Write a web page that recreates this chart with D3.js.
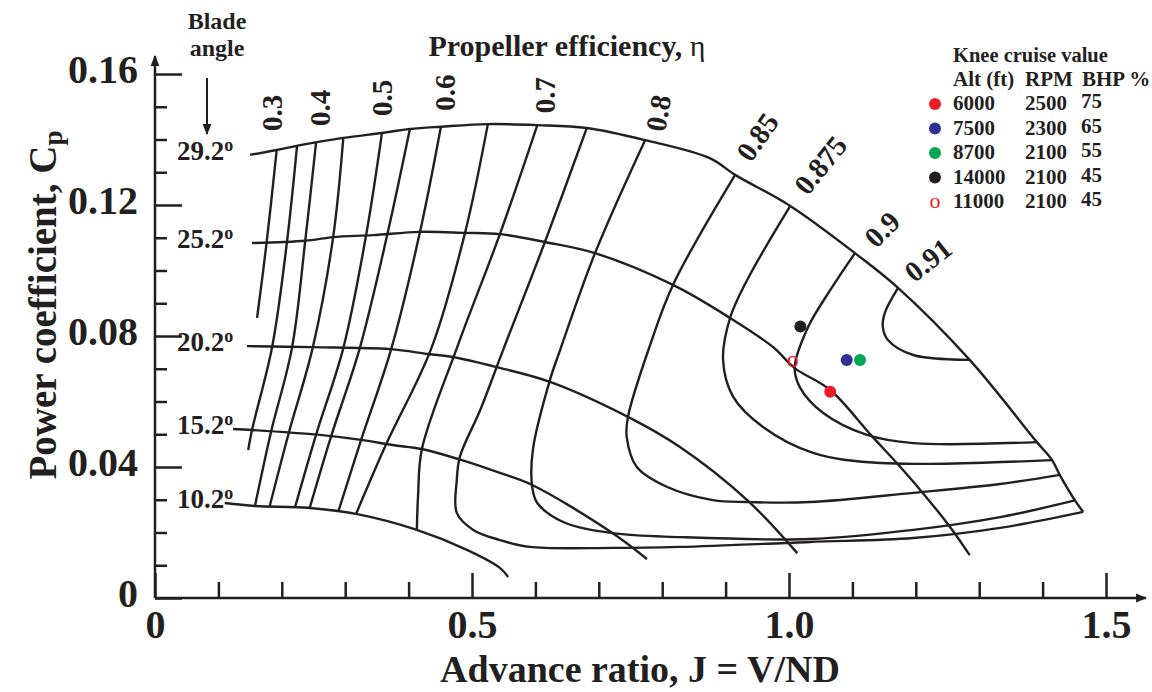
<!DOCTYPE html>
<html>
<head>
<meta charset="utf-8">
<script src="https://cdn.jsdelivr.net/npm/d3@7"></script>
<style>
  body { margin: 0; background: #fff; }
  svg { display: block; font-family: "Liberation Serif", "Times New Roman", serif; }
</style>
</head>
<body>
<svg id="chart" width="1152" height="692"></svg>
<script>
// axis ticks
var xMajor = [0, 0.5, 1.0, 1.5];
var xTickLabels = ["0", "0.5", "1.0", "1.5"];
var xMinor = [0.1, 0.2, 0.3, 0.4, 0.6, 0.7, 0.8, 0.9, 1.1, 1.2, 1.3, 1.4];
var yMajor = [0, 0.04, 0.08, 0.12, 0.16];
var yTickLabels = ["0", "0.04", "0.08", "0.12", "0.16"];
var yMinor = [0.01, 0.02, 0.03, 0.05, 0.06, 0.07, 0.09, 0.10, 0.11, 0.13, 0.14, 0.15];

// blade angle lines, [J, Cp]; the top one runs on round the outer edge of the map
var bladeAngles = ["29.2", "25.2", "20.2", "15.2", "10.2"];
var blade292 = [[0.150,0.1353],[0.192,0.1368],[0.229,0.1383],[0.297,0.1405],[0.358,0.1420],[0.402,0.1432],[0.451,0.1439],[0.525,0.1447],[0.603,0.1444],[0.681,0.1435],[0.773,0.1398],[0.875,0.1343],[0.915,0.1292],[1.002,0.1197],[1.104,0.1053],[1.172,0.0947],[1.285,0.0727],[1.391,0.0476],[1.415,0.0421],[1.427,0.0376],[1.451,0.0298],[1.464,0.0263]];
var blade252 = [[0.153,0.1084],[0.237,0.1091],[0.281,0.1102],[0.344,0.1108],[0.418,0.1118],[0.489,0.1115],[0.544,0.1111],[0.615,0.1087],[0.694,0.1053],[0.817,0.0956],[0.907,0.0855],[0.975,0.0766],[1.009,0.0702],[1.065,0.0635],[1.129,0.0498],[1.170,0.0412],[1.207,0.0330],[1.254,0.0217],[1.285,0.0131]];
var blade202 = [[0.145,0.0769],[0.249,0.0766],[0.371,0.0760],[0.431,0.0745],[0.470,0.0736],[0.539,0.0705],[0.623,0.0660],[0.746,0.0553],[0.828,0.0461],[0.934,0.0299],[1.013,0.0137]];
var blade152 = [[0.123,0.0516],[0.153,0.0513],[0.260,0.0498],[0.328,0.0482],[0.374,0.0467],[0.421,0.0455],[0.484,0.0421],[0.544,0.0382],[0.595,0.0345],[0.722,0.0198],[0.776,0.0119]];
var blade102 = [[0.110,0.0290],[0.158,0.0281],[0.244,0.0275],[0.319,0.0256],[0.413,0.0208],[0.492,0.0147],[0.544,0.0092],[0.557,0.0064]];

// efficiency contours, [J, Cp], listed from the top edge downwards
var effValues = ["0.3", "0.35", "0.4", "0.45", "0.5", "0.55", "0.6", "0.65", "0.7", "0.75", "0.8", "0.85", "0.875", "0.9", "0.91"];
var effLabelled = ["0.3", "0.4", "0.5", "0.6", "0.7", "0.8", "0.85", "0.875", "0.9", "0.91"];
var eff30 = [[0.192,0.1368],[0.176,0.1084],[0.161,0.0855]];
var eff35 = [[0.224,0.1380],[0.208,0.1085],[0.185,0.0769],[0.153,0.0513],[0.147,0.0452]];
var eff40 = [[0.254,0.1390],[0.237,0.1091],[0.216,0.0763],[0.183,0.0507],[0.158,0.0284]];
var eff45 = [[0.297,0.1405],[0.281,0.1102],[0.249,0.0766],[0.211,0.0504],[0.181,0.0281]];
var eff50 = [[0.358,0.1420],[0.333,0.1108],[0.297,0.0763],[0.254,0.0498],[0.221,0.0278]];
var eff55 = [[0.402,0.1432],[0.367,0.1115],[0.323,0.0763],[0.278,0.0495],[0.244,0.0275]];
var eff60 = [[0.451,0.1439],[0.418,0.1118],[0.373,0.0763],[0.325,0.0482],[0.289,0.0263]];
var eff65 = [[0.525,0.1447],[0.489,0.1115],[0.436,0.0763],[0.364,0.0467],[0.317,0.0256]];
var eff70 = [[0.603,0.1444],[0.544,0.1111],[0.478,0.0773],[0.421,0.0455],[0.415,0.0315],[0.413,0.0208]];
var eff75 = [[0.681,0.1435],[0.615,0.1087],[0.549,0.0757],[0.513,0.0574],[0.481,0.0432],[0.476,0.0360],[0.476,0.0260],[0.502,0.0208],[0.544,0.0177],[0.591,0.0156],[0.722,0.0153],[0.828,0.0156],[1.033,0.0171],[1.196,0.0183],[1.333,0.0214],[1.464,0.0263]];
var eff80 = [[0.773,0.1398],[0.694,0.1053],[0.639,0.0757],[0.623,0.0666],[0.596,0.0452],[0.595,0.0339],[0.603,0.0290],[0.644,0.0232],[0.722,0.0198],[0.828,0.0186],[1.033,0.0180],[1.196,0.0208],[1.333,0.0247],[1.451,0.0298]];
var eff85 = [[0.915,0.1292],[0.817,0.0956],[0.781,0.0773],[0.746,0.0553],[0.744,0.0492],[0.760,0.0400],[0.808,0.0339],[0.880,0.0299],[0.934,0.0293],[1.033,0.0293],[1.196,0.0321],[1.333,0.0348],[1.427,0.0376]];
var eff875 = [[1.002,0.1197],[0.934,0.0971],[0.907,0.0855],[0.896,0.0727],[0.912,0.0614],[0.959,0.0522],[1.038,0.0443],[1.144,0.0412],[1.415,0.0421]];
var eff90 = [[1.104,0.1053],[1.065,0.0940],[1.030,0.0827],[1.009,0.0705],[1.017,0.0644],[1.054,0.0565],[1.123,0.0498],[1.196,0.0473],[1.391,0.0476]];
var eff91 = [[1.172,0.0947],[1.151,0.0870],[1.148,0.0827],[1.156,0.0788],[1.196,0.0742],[1.285,0.0727]];

// knee cruise points
var cruiseAlt = ["6000", "7500", "8700", "14000", "11000"];
var cruiseRpm = ["2500", "2300", "2100", "2100", "2100"];
var cruiseBhp = ["75", "65", "55", "45", "45"];
var cruiseJ = [1.065, 1.091, 1.112, 1.018, 1.006];
var cruiseCp = [0.0630, 0.0727, 0.0727, 0.0829, 0.0730];
var cruiseColor = ["#ed1c24", "#2e3192", "#00a651", "#231f20", "#ed1c24"];
var cruiseHollow = [false, false, false, false, true];

var ink = "#231f20";
var svg = d3.select("#chart");

var x = d3.scaleLinear().domain([0, 1.5]).range([155, 1106]);
var y = d3.scaleLinear().domain([0, 0.16]).range([598, 74]);

var curve = d3.line()
    .x(function(d) { return x(d[0]); })
    .y(function(d) { return y(d[1]); })
    .curve(d3.curveCatmullRom.alpha(0.5));

svg.append("defs").append("marker")
    .attr("id", "arrow")
    .attr("viewBox", "0 -5 10 10")
    .attr("refX", 9).attr("refY", 0)
    .attr("markerUnits", "userSpaceOnUse")
    .attr("markerWidth", 11).attr("markerHeight", 11)
    .attr("orient", "auto")
    .append("path").attr("d", "M0,-4L10,0L0,4Z").attr("fill", ink);

// ---- axes ----
function styleAxis(g) {
    g.select(".domain").remove();
    g.selectAll(".tick line").attr("stroke", ink).attr("stroke-width", 2.5);
    g.selectAll(".tick text")
        .attr("fill", ink)
        .attr("font-family", "'Liberation Serif', serif")
        .attr("font-weight", "bold")
        .attr("font-size", 40);
}

svg.append("g").attr("transform", "translate(" + x(0) + ",0)")
    .call(d3.axisLeft(y).tickValues(yMinor).tickSize(-12).tickFormat(""))
    .call(styleAxis);
svg.append("g").attr("transform", "translate(" + x(0) + ",0)")
    .call(d3.axisLeft(y).tickValues(yMajor).tickSize(-27).tickPadding(17)
        .tickFormat(function(d, i) { return yTickLabels[i]; }))
    .call(styleAxis)
    .selectAll(".tick text").attr("dy", "0.2em");

svg.append("g").attr("transform", "translate(0," + y(0) + ")")
    .call(d3.axisBottom(x).tickValues(xMinor).tickSize(-16).tickFormat(""))
    .call(styleAxis);
svg.append("g").attr("transform", "translate(0," + y(0) + ")")
    .call(d3.axisBottom(x).tickValues(xMajor).tickSize(-25).tickPadding(12)
        .tickFormat(function(d, i) { return xTickLabels[i]; }))
    .call(styleAxis);

svg.append("line")
    .attr("x1", x(0)).attr("y1", y(0)).attr("x2", x(1.563)).attr("y2", y(0))
    .attr("stroke", ink).attr("stroke-width", 2.5).attr("marker-end", "url(#arrow)");
svg.append("line")
    .attr("x1", x(0)).attr("y1", y(0)).attr("x2", x(0)).attr("y2", y(0.1655))
    .attr("stroke", ink).attr("stroke-width", 2.5).attr("marker-end", "url(#arrow)");

// ---- curves ----
var bladeLines = [blade292, blade252, blade202, blade152, blade102];
var effLines = [eff30, eff35, eff40, eff45, eff50, eff55, eff60, eff65, eff70, eff75, eff80, eff85, eff875, eff90, eff91];

var plot = svg.append("g").attr("fill", "none").attr("stroke", ink)
    .attr("stroke-width", 2.4).attr("stroke-linecap", "butt");

plot.selectAll("path.blade").data(bladeLines).enter().append("path")
    .attr("class", "blade").attr("d", curve);
plot.selectAll("path.eff").data(effLines).enter().append("path")
    .attr("class", "eff").attr("d", curve);

// blade angle labels, left of each line start
var bladeText = svg.append("g").attr("fill", ink).attr("font-weight", "bold").attr("font-size", 27);
bladeLines.forEach(function(pts, i) {
    var t = bladeText.append("text").attr("x", 177).attr("y", y(pts[0][1]) + 5).text(bladeAngles[i]);
    t.append("tspan").attr("font-size", 18).attr("dy", -9).text("o");
});

// efficiency labels sit just beyond the top end of each contour
var effLabelPlace = {
    "0.3": [-5, -37, -90], "0.4": [4, -35, -90], "0.5": [0, -35, -90], "0.6": [4, -34, -90],
    "0.7": [8, -30, -90], "0.8": [13, -27, -80], "0.85": [22, -38, -55], "0.875": [30, -41, -51],
    "0.9": [27, -24, -45], "0.91": [30, -28, -38]
};
var effText = svg.append("g").attr("fill", ink).attr("font-weight", "bold").attr("font-size", 29);
effValues.forEach(function(v, i) {
    if (effLabelled.indexOf(v) < 0) return;
    var p = effLines[i][0], o = effLabelPlace[v];
    var cx = x(p[0]) + o[0], cy = y(p[1]) + o[1];
    effText.append("text")
        .attr("transform", "translate(" + cx + "," + cy + ") rotate(" + o[2] + ")")
        .attr("text-anchor", "middle").attr("dy", "0.35em")
        .text(v);
});

// ---- cruise points ----
cruiseAlt.forEach(function(a, i) {
    if (cruiseHollow[i]) {
        svg.append("text").attr("x", x(cruiseJ[i])).attr("y", y(cruiseCp[i]))
            .attr("text-anchor", "middle").attr("dy", "0.32em")
            .attr("font-size", 24).attr("fill", cruiseColor[i]).text("o");
    } else {
        svg.append("circle").attr("cx", x(cruiseJ[i])).attr("cy", y(cruiseCp[i]))
            .attr("r", 6).attr("fill", cruiseColor[i]);
    }
});

// ---- titles ----
svg.append("text").attr("x", 567).attr("y", 56).attr("text-anchor", "middle")
    .attr("font-weight", "bold").attr("font-size", 30).attr("fill", ink)
    .text("Propeller efficiency, ")
    .append("tspan").attr("font-weight", "normal").text("η");

var bladeHead = svg.append("g").attr("fill", ink).attr("font-weight", "bold")
    .attr("font-size", 24).attr("text-anchor", "middle");
bladeHead.append("text").attr("x", 217).attr("y", 29).text("Blade");
bladeHead.append("text").attr("x", 217).attr("y", 56).text("angle");
svg.append("line").attr("x1", 207).attr("y1", 78).attr("x2", 207).attr("y2", 134)
    .attr("stroke", ink).attr("stroke-width", 2).attr("marker-end", "url(#arrow)");

svg.append("text").attr("x", 640).attr("y", 682).attr("text-anchor", "middle")
    .attr("font-weight", "bold").attr("font-size", 38).attr("fill", ink)
    .text("Advance ratio, J = V/ND");

var yTitle = svg.append("text")
    .attr("transform", "translate(56,305) rotate(-90)")
    .attr("text-anchor", "middle")
    .attr("font-weight", "bold").attr("font-size", 39).attr("fill", ink)
    .text("Power coefficient,  C");
yTitle.append("tspan").attr("font-size", 27).attr("dy", 6).text("p");

// ---- legend ----
var legend = svg.append("g").attr("fill", ink).attr("font-weight", "bold").attr("font-size", 21);
legend.append("text").attr("x", 953).attr("y", 62).attr("font-size", 20.5).text("Knee cruise value");
legend.append("text").attr("x", 953).attr("y", 86).text("Alt (ft)");
legend.append("text").attr("x", 1025).attr("y", 86).text("RPM");
legend.append("text").attr("x", 1082).attr("y", 86).text("BHP %");
cruiseAlt.forEach(function(a, i) {
    var by = 110 + i * 24.5;
    legend.append("text").attr("x", 953).attr("y", by).text(a);
    legend.append("text").attr("x", 1025).attr("y", by).text(cruiseRpm[i]);
    legend.append("text").attr("x", 1081).attr("y", by - 2).text(cruiseBhp[i]);
    if (cruiseHollow[i]) {
        legend.append("text").attr("x", 935).attr("y", by - 7).attr("text-anchor", "middle")
            .attr("dy", "0.32em").attr("font-weight", "normal").attr("font-size", 22)
            .attr("fill", cruiseColor[i]).text("o");
    } else {
        legend.append("circle").attr("cx", 935).attr("cy", by - 6).attr("r", 6)
            .attr("fill", cruiseColor[i]);
    }
});
</script>
</body>
</html>
